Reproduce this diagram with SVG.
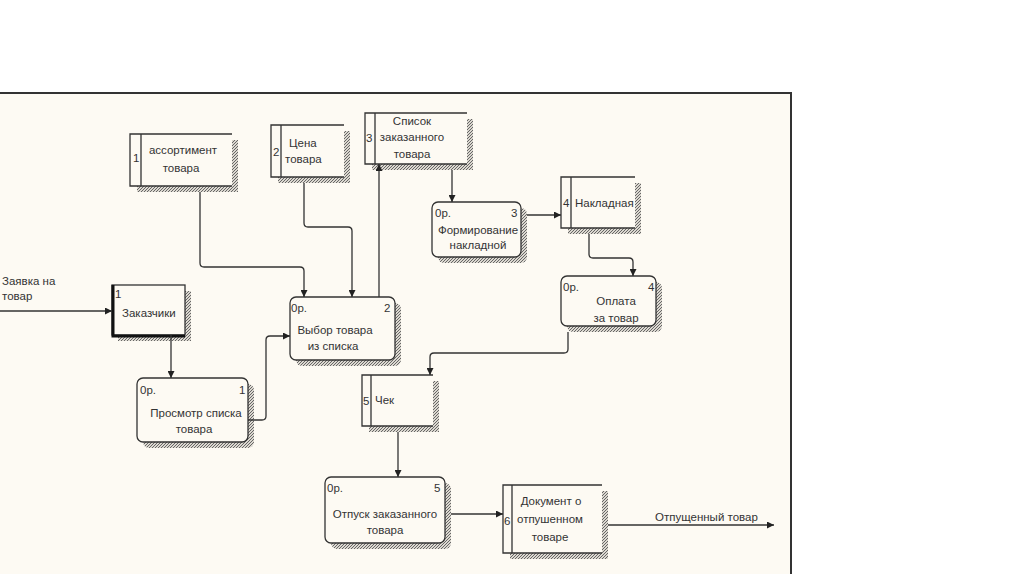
<svg xmlns="http://www.w3.org/2000/svg" width="1024" height="574" viewBox="0 0 1024 574">
<style>
text{font-family:"Liberation Sans",Arial,sans-serif;font-size:11.5px;fill:#333}
.c{text-anchor:middle}
.box{fill:#fdfaf3;stroke:#333;stroke-width:1.3}
.ln{fill:none;stroke:#333;stroke-width:1.3}
.sh{fill:url(#hatch);stroke:none}
.cn{fill:none;stroke:#333;stroke-width:1.3;marker-end:url(#arr)}
</style>
<defs>
<pattern id="hatch" patternUnits="userSpaceOnUse" width="3" height="3">
<rect width="3" height="3" fill="#dcd8d0"/>
<path d="M0,3 L3,0" stroke="#666" stroke-width="1"/>
</pattern>
<marker id="arr" viewBox="0 0 10 10" refX="10" refY="5" markerWidth="7" markerHeight="7" orient="auto" markerUnits="userSpaceOnUse">
<path d="M0,0 L10,5 L0,10 z" fill="#222"/>
</marker>
</defs>
<rect width="1024" height="574" fill="#ffffff"/>
<rect x="-2" y="93" width="793" height="490" fill="#fdfaf3" stroke="#333" stroke-width="2"/>

<g id="store1">
<rect class="sh" x="137" y="140" width="101" height="52"/>
<rect x="130" y="134" width="102" height="52" fill="#fdfaf3"/>
<path class="ln" d="M232,134 L130,134 L130,186 L232,186 M141,134 L141,186"/>
<text x="133" y="162">1</text>
<text class="c" x="183" y="154">ассортимент</text>
<text class="c" x="181" y="172">товара</text>
</g>

<g id="store2">
<rect class="sh" x="278" y="131" width="72" height="52"/>
<rect x="271" y="125" width="73" height="52" fill="#fdfaf3"/>
<path class="ln" d="M344,125 L271,125 L271,177 L344,177 M281,125 L281,177"/>
<text x="273" y="156">2</text>
<text x="289" y="147">Цена</text>
<text x="285" y="163">товара</text>
</g>

<g id="store3">
<rect class="sh" x="372" y="119" width="101" height="51"/>
<rect x="365" y="113" width="102" height="51" fill="#fdfaf3"/>
<path class="ln" d="M467,113 L365,113 L365,164 L467,164 M375,113 L375,164"/>
<text x="366" y="142">3</text>
<text class="c" x="412" y="125">Список</text>
<text class="c" x="412" y="141">заказанного</text>
<text class="c" x="412" y="158">товара</text>
</g>

<g id="proc3">
<rect class="sh" x="438" y="208" width="89" height="55" rx="6"/>
<rect class="box" x="432" y="202" width="89" height="55" rx="6"/>
<text x="435" y="217">0р.</text>
<text x="511" y="217">3</text>
<text class="c" x="478" y="234">Формирование</text>
<text class="c" x="478" y="249">накладной</text>
</g>

<g id="store4">
<rect class="sh" x="568" y="183" width="73" height="51"/>
<rect x="561" y="177" width="74" height="51" fill="#fdfaf3"/>
<path class="ln" d="M635,177 L561,177 L561,228 L635,228 M571,177 L571,228"/>
<text x="563" y="207">4</text>
<text x="575" y="207">Накладная</text>
</g>

<g id="proc4">
<rect class="sh" x="567" y="282" width="95" height="50" rx="6"/>
<rect class="box" x="561" y="276" width="95" height="50" rx="6"/>
<text x="563" y="291">0р.</text>
<text x="648" y="291">4</text>
<text class="c" x="616" y="305">Оплата</text>
<text class="c" x="616" y="322">за товар</text>
</g>

<g id="ext1">
<rect class="sh" x="118" y="291" width="73" height="50"/>
<rect class="box" x="112" y="285" width="73" height="50" stroke-width="1.5"/>
<path d="M113,285 L113,336 L185,336" fill="none" stroke="#111" stroke-width="3"/>
<text x="115" y="298">1</text>
<text x="122" y="317">Заказчики</text>
</g>

<g id="proc1">
<rect class="sh" x="143" y="384" width="111" height="64" rx="6"/>
<rect class="box" x="137" y="378" width="111" height="64" rx="6"/>
<text x="140" y="394">0р.</text>
<text x="239" y="394">1</text>
<text class="c" x="196" y="417">Просмотр списка</text>
<text class="c" x="194" y="433">товара</text>
</g>

<g id="proc2">
<rect class="sh" x="296" y="303" width="105" height="63" rx="6"/>
<rect class="box" x="290" y="297" width="105" height="63" rx="6"/>
<text x="291" y="312">0р.</text>
<text x="384" y="312">2</text>
<text class="c" x="335" y="334">Выбор товара</text>
<text class="c" x="333" y="350">из списка</text>
</g>

<g id="store5">
<rect class="sh" x="369" y="381" width="70" height="51"/>
<rect x="362" y="375" width="71" height="51" fill="#fdfaf3"/>
<path class="ln" d="M433,375 L362,375 L362,426 L433,426 M371,375 L371,426"/>
<text x="363" y="405">5</text>
<text x="375" y="404">Чек</text>
</g>

<g id="proc5">
<rect class="sh" x="331" y="483" width="120" height="66" rx="6"/>
<rect class="box" x="325" y="477" width="120" height="66" rx="6"/>
<text x="327" y="492">0р.</text>
<text x="434" y="492">5</text>
<text class="c" x="385" y="518">Отпуск заказанного</text>
<text class="c" x="385" y="534">товара</text>
</g>

<g id="store6">
<rect class="sh" x="510" y="491" width="98" height="68"/>
<rect x="503" y="485" width="99" height="68" fill="#fdfaf3"/>
<path class="ln" d="M602,485 L503,485 L503,553 L602,553 M512,485 L512,553"/>
<text x="504" y="525">6</text>
<text class="c" x="551" y="505">Документ о</text>
<text class="c" x="550" y="523">отпушенном</text>
<text class="c" x="550" y="541">товаре</text>
</g>

<g id="connectors">
<path class="cn" d="M0,311 L112,311"/>
<path class="cn" d="M171,335 L171,378"/>
<path class="cn" d="M248,420 L262,420 Q266,420 266,416 L266,340 Q266,336 270,336 L290,336"/>
<path class="cn" d="M200,192 L200,263 Q200,267 204,267 L300,267 Q304,267 304,271 L304,297"/>
<path class="cn" d="M304,183 L304,223 Q304,227 308,227 L348,227 Q352,227 352,231 L352,297"/>
<path class="cn" d="M379,297 L379,164"/>
<path class="cn" d="M452,170 L452,202"/>
<path class="cn" d="M527,215 L561,215"/>
<path class="cn" d="M589,234 L589,254 Q589,258 593,258 L629,258 Q633,258 633,262 L633,276"/>
<path class="cn" d="M568,332 L568,349 Q568,353 564,353 L434,353 Q430,353 430,357 L430,375"/>
<path class="cn" d="M398,432 L398,477"/>
<path class="cn" d="M451,514 L503,514"/>
<path class="cn" d="M608,525 L774,525"/>
<text x="2" y="285">Заявка на</text>
<text x="2" y="300">товар</text>
<text x="655" y="521">Отпущенный товар</text>
</g>
</svg>
